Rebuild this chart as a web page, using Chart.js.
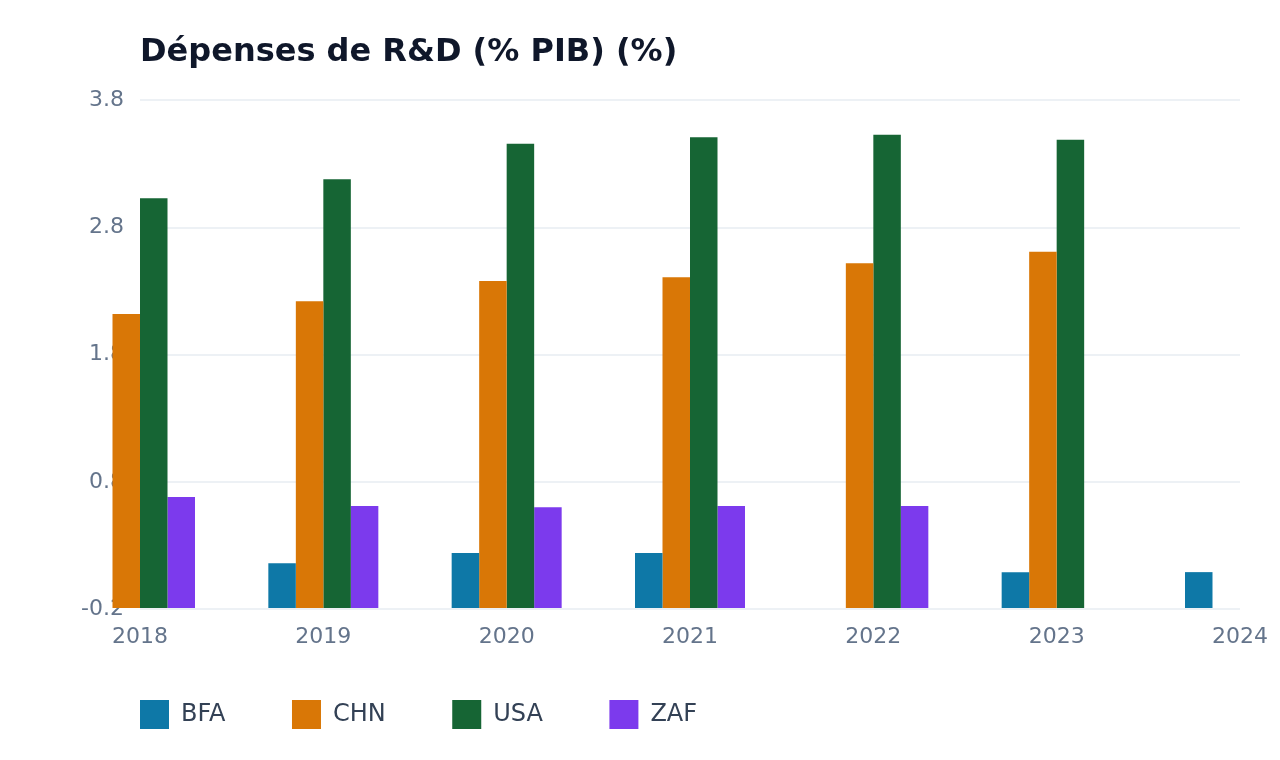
<!DOCTYPE html>
<html lang="fr">
<head>
<meta charset="utf-8">
<title>Dépenses de R&amp;D (% PIB)</title>
<script src="https://cdn.jsdelivr.net/npm/chart.js@4.4.1/dist/chart.umd.min.js"></script>
<style>
  html, body { margin: 0; padding: 0; background: #ffffff; }
  #wrap { width: 1280px; height: 760px; }
</style>
</head>
<body>
<div id="wrap"><canvas id="rdChart"></canvas></div>
<script>
const years = ['2018', '2019', '2020', '2021', '2022', '2023', '2024'];
const yTicks = [-0.2, 0.8, 1.8, 2.8, 3.8];

const bfa = [null, 0.16, 0.24, 0.24, null, 0.09, 0.09];
const chn = [2.12, 2.22, 2.38, 2.41, 2.52, 2.61, null];
const usa = [3.03, 3.18, 3.46, 3.51, 3.53, 3.49, null];
const zaf = [0.68, 0.61, 0.60, 0.61, 0.61, null, null];

Chart.defaults.font.family = "'DejaVu Sans', sans-serif";

function series(label, data, color) {
  return {
    label: label,
    data: data,
    backgroundColor: color,
    borderWidth: 0,
    base: yTicks[0],
    clip: false,
    categoryPercentage: 0.6,
    barPercentage: 1.0
  };
}

// legend rows are placed at legend.top + padding; lift the top edge so the wide
// item spacing does not push the boxes down (bottom stays, legend clips to its box)
const legendLift = {
  id: 'legendLift',
  afterLayout(chart, args, opts) {
    const lg = chart.legend;
    if (!lg) return;
    lg.top -= opts.shift;
  }
};

const ctx = document.getElementById('rdChart').getContext('2d');

const chart = new Chart(ctx, {
  type: 'bar',
  data: {
    labels: years,
    datasets: [
      series('BFA', bfa, '#0e78a7'),
      series('CHN', chn, '#d97706'),
      series('USA', usa, '#166534'),
      series('ZAF', zaf, '#7c3aed')
    ]
  },
  plugins: [legendLift],
  options: {
    responsive: true,
    maintainAspectRatio: false,
    animation: false,
    layout: {
      padding: { left: 73.5, right: 40, top: 0, bottom: 0 }
    },
    plugins: {
      title: {
        display: true,
        text: 'Dépenses de R&D (% PIB) (%)',
        align: 'start',
        fullSize: false,
        color: '#0f172a',
        font: { size: 32, weight: 'bold' },
        padding: { top: 33, bottom: 29 }
      },
      legend: {
        position: 'bottom',
        align: 'start',
        maxHeight: 94,
        labels: {
          color: '#334155',
          font: { size: 24 },
          boxWidth: 29,
          boxHeight: 29,
          padding: 66.5
        }
      },
      legendLift: { shift: 32.5 },
      tooltip: { enabled: false }
    },
    scales: {
      x: {
        offset: false,
        grid: { display: false, offset: false, drawTicks: false },
        border: { display: false },
        ticks: {
          color: '#64748b',
          font: { size: 22, lineHeight: 1.5 },
          padding: 12,
          maxRotation: 0
        }
      },
      y: {
        min: yTicks[0],
        max: yTicks[yTicks.length - 1],
        grid: { color: '#edf1f5', lineWidth: 2, drawTicks: false },
        border: { display: false },
        ticks: {
          color: '#64748b',
          font: { size: 22 },
          padding: 16,
          callback: function (v) { return Number(v).toFixed(1); }
        },
        afterBuildTicks: function (scale) {
          scale.ticks = yTicks.map(function (v) { return { value: v }; });
        },
        afterFit: function (scale) { scale.width = 66.5; }
      }
    }
  }
});
</script>
</body>
</html>
